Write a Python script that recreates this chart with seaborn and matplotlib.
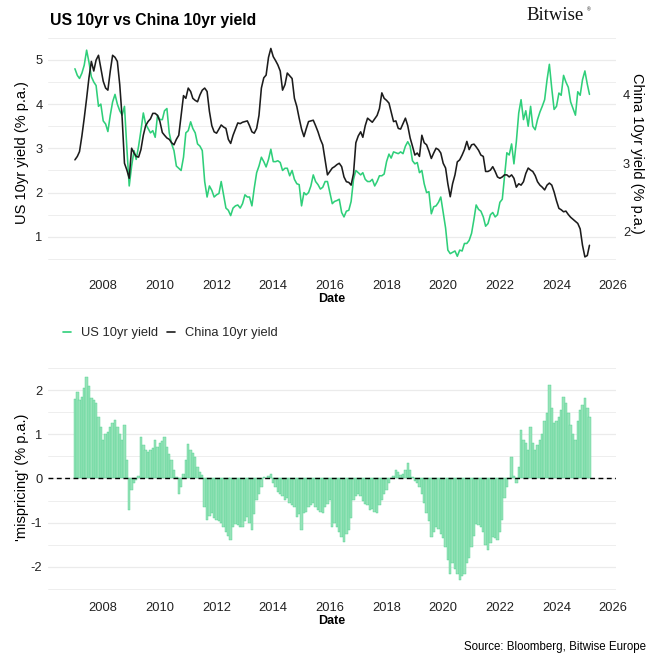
import matplotlib
matplotlib.use("Agg")
import matplotlib.pyplot as plt
from matplotlib.lines import Line2D
from matplotlib.ticker import MultipleLocator
import numpy as np
import pandas as pd
import seaborn as sns

# monthly observations, Jan 2007 .. Mar 2025
months = pd.date_range("2007-01-01", "2025-03-01", freq="MS")

us_10yr = [
    4.80, 4.65, 4.58, 4.70, 4.88, 5.22, 4.95, 4.62, 4.50, 4.42, 3.95, 4.00,
    3.62, 3.55, 3.38, 3.75, 4.05, 4.22, 4.00, 3.85, 3.75, 3.95, 3.00, 2.15,
    2.60, 2.95, 2.75, 3.05, 3.40, 3.80, 3.55, 3.45, 3.35, 3.40, 3.25, 3.75,
    3.65, 3.65, 3.85, 3.90, 3.35, 3.10, 2.95, 2.60, 2.55, 2.50, 2.80, 3.35,
    3.40, 3.60, 3.45, 3.35, 3.10, 3.05, 2.95, 2.25, 1.90, 2.15, 2.05, 1.90,
    1.95, 1.98, 2.25, 1.95, 1.65, 1.60, 1.48, 1.65, 1.70, 1.72, 1.65, 1.75,
    1.95, 1.90, 1.90, 1.70, 2.10, 2.45, 2.60, 2.80, 2.70, 2.58, 2.75, 2.98,
    2.70, 2.70, 2.72, 2.68, 2.50, 2.55, 2.55, 2.38, 2.50, 2.30, 2.20, 2.18,
    1.70, 2.00, 1.95, 2.00, 2.15, 2.40, 2.25, 2.18, 2.08, 2.12, 2.25, 2.25,
    2.00, 1.75, 1.80, 1.82, 1.85, 1.55, 1.45, 1.58, 1.60, 1.80, 2.30, 2.50,
    2.45, 2.40, 2.45, 2.30, 2.25, 2.25, 2.30, 2.15, 2.25, 2.38, 2.38, 2.42,
    2.70, 2.87, 2.78, 2.92, 2.90, 2.88, 2.92, 2.88, 3.05, 3.15, 3.05, 2.72,
    2.65, 2.68, 2.45, 2.50, 2.20, 2.00, 2.02, 1.52, 1.68, 1.70, 1.78, 1.90,
    1.55, 1.20, 0.70, 0.62, 0.65, 0.68, 0.56, 0.70, 0.68, 0.85, 0.85, 0.92,
    1.08, 1.40, 1.72, 1.62, 1.58, 1.45, 1.24, 1.30, 1.50, 1.55, 1.45, 1.50,
    1.78, 1.85, 2.35, 2.90, 2.85, 3.10, 2.65, 3.15, 3.80, 4.10, 3.65, 3.85,
    3.50, 3.95, 3.50, 3.42, 3.65, 3.82, 3.95, 4.10, 4.55, 4.90, 4.35, 3.88,
    3.95, 4.25, 4.20, 4.65, 4.50, 4.38, 4.05, 3.90, 3.75, 4.28, 4.20, 4.55,
    4.75, 4.45, 4.22,
]

china_10yr = [
    3.05, 3.10, 3.17, 3.40, 3.66, 3.95, 4.25, 4.49, 4.35, 4.51, 4.58, 4.39,
    4.20, 4.10, 4.07, 4.35, 4.58, 4.55, 4.49, 4.15, 3.66, 3.00, 2.90, 2.78,
    3.22, 3.15, 3.10, 3.09, 3.20, 3.41, 3.55, 3.61, 3.65, 3.73, 3.73, 3.70,
    3.61, 3.45, 3.41, 3.37, 3.35, 3.30, 3.27, 3.35, 3.41, 3.70, 3.99, 3.95,
    4.10, 4.05, 3.95, 3.92, 3.90, 4.00, 4.07, 4.10, 4.05, 3.76, 3.55, 3.46,
    3.44, 3.50, 3.56, 3.53, 3.51, 3.35, 3.29, 3.41, 3.50, 3.59, 3.58, 3.60,
    3.61, 3.62, 3.55, 3.46, 3.44, 3.51, 3.70, 4.10, 4.25, 4.29, 4.55, 4.68,
    4.56, 4.50, 4.44, 4.35, 4.07, 4.15, 4.32, 4.28, 4.24, 3.95, 3.83, 3.66,
    3.50, 3.39, 3.50, 3.61, 3.62, 3.63, 3.55, 3.46, 3.35, 3.27, 3.05, 2.83,
    2.88, 2.93, 2.95, 2.98, 3.00, 2.95, 2.80, 2.73, 2.72, 2.68, 2.85, 3.30,
    3.40, 3.46, 3.38, 3.55, 3.66, 3.63, 3.60, 3.65, 3.70, 3.80, 4.03, 3.95,
    3.92, 3.88, 3.75, 3.61, 3.62, 3.51, 3.50, 3.58, 3.66, 3.55, 3.37, 3.25,
    3.12, 3.15, 3.10, 3.41, 3.30, 3.27, 3.18, 3.07, 3.15, 3.22, 3.20, 3.15,
    3.00, 2.93, 2.70, 2.51, 2.70, 2.83, 3.02, 3.05, 3.12, 3.20, 3.32, 3.20,
    3.27, 3.28, 3.24, 3.19, 3.12, 3.10, 2.88, 2.88, 2.90, 2.95, 2.88, 2.80,
    2.78, 2.80, 2.83, 2.83, 2.80, 2.83, 2.78, 2.65, 2.70, 2.68, 2.73, 2.85,
    2.93, 2.90, 2.88, 2.82, 2.73, 2.68, 2.65, 2.61, 2.68, 2.71, 2.68, 2.58,
    2.45, 2.34, 2.32, 2.29, 2.30, 2.25, 2.21, 2.18, 2.15, 2.12, 2.04, 1.80,
    1.63, 1.65, 1.80,
]

mispricing = [
    1.80, 1.96, 1.78, 1.85, 2.05, 2.30, 2.10, 1.82, 1.78, 1.70, 1.40, 1.17,
    0.87, 1.00, 1.05, 1.17, 1.25, 1.32, 1.17, 1.00, 0.87, 1.21, 0.42, -0.72,
    -0.26, -0.10, -0.04, 0.05, 0.94, 0.75, 0.64, 0.60, 0.64, 0.70, 0.87, 0.72,
    0.80, 0.85, 0.94, 0.72, 0.55, 0.42, 0.20, 0.04, -0.34, -0.19, 0.10, 0.42,
    0.79, 0.65, 0.57, 0.49, 0.26, 0.15, 0.08, -0.64, -0.94, -0.85, -0.79, -0.90,
    -0.94, -0.95, -1.00, -1.09, -1.20, -1.30, -1.40, -1.10, -1.02, -1.05, -1.09, -1.09,
    -0.95, -0.87, -1.00, -1.17, -0.80, -0.49, -0.35, -0.19, 0.04, 0.00, 0.05, 0.11,
    -0.11, -0.20, -0.30, -0.34, -0.40, -0.49, -0.45, -0.55, -0.60, -0.64, -0.87, -0.80,
    -1.17, -0.79, -0.75, -0.64, -0.60, -0.55, -0.65, -0.72, -0.75, -0.79, -0.65, -0.57,
    -0.49, -1.09, -1.00, -1.09, -1.20, -1.32, -1.43, -1.25, -1.17, -0.90, -0.49, -0.40,
    -0.34, -0.40, -0.50, -0.57, -0.60, -0.72, -0.70, -0.75, -0.79, -0.60, -0.49, -0.35,
    -0.26, -0.10, 0.00, 0.05, 0.19, 0.15, 0.08, 0.10, 0.20, 0.34, 0.20, 0.04,
    -0.05, -0.11, -0.20, -0.34, -0.55, -0.79, -0.95, -1.32, -1.20, -1.09, -1.15, -1.25,
    -1.35, -1.55, -1.85, -2.15, -1.92, -2.05, -2.15, -2.30, -2.20, -2.15, -1.92, -1.80,
    -1.55, -1.30, -1.02, -1.05, -1.09, -1.20, -1.50, -1.62, -1.45, -1.32, -1.35, -1.40,
    -1.20, -0.94, -0.45, -0.19, 0.00, 0.49, 0.05, -0.11, 0.26, 1.09, 0.87, 0.80,
    0.64, 1.17, 0.80, 0.64, 0.75, 0.87, 1.00, 1.30, 1.47, 2.11, 1.60, 1.25,
    1.30, 1.40, 1.55, 1.85, 1.70, 1.47, 1.20, 1.00, 0.87, 1.30, 1.55, 1.65,
    1.81, 1.60, 1.40,
]

year_ticks = list(range(2008, 2027, 2))

# China yield is drawn on the US scale (right axis shows China units)
CN_SCALE = 1.545
CN_SHIFT = -1.972

GREEN = "#2fcf7a"
BLACK = "#1c1c1c"
GRID = "#ebebeb"
TXT = "#222222"

sns.set_theme(style="white")
plt.rcParams["font.family"] = ["Liberation Sans", "DejaVu Sans"]

W = H = 661
fig = plt.figure(figsize=(W / 100, H / 100), dpi=100)


def px_box(left, top, right, bottom):
    return [left / W, 1 - bottom / H, (right - left) / W, (bottom - top) / H]


ax1 = fig.add_axes(px_box(48, 36, 616, 270))
ax2 = fig.add_axes(px_box(48, 365, 616, 592))

lines_df = pd.DataFrame({
    "date": np.concatenate([months, months]),
    "value": np.concatenate([np.array(us_10yr),
                             np.array(china_10yr) * CN_SCALE + CN_SHIFT]),
    "series": ["US 10yr yield"] * len(months) + ["China 10yr yield"] * len(months),
})

sns.lineplot(data=lines_df, x="date", y="value", hue="series",
             palette={"US 10yr yield": GREEN, "China 10yr yield": BLACK},
             linewidth=1.15, legend=False, ax=ax1)

ax2.bar(months, mispricing, width=31, color="#97e3b9", edgecolor="#4fd28f",
        linewidth=0.3, zorder=2)
ax2.axhline(0, color="black", linewidth=1.0, linestyle=(0, (3.5, 2.5)), zorder=3)

xlim = (pd.Timestamp("2006-01-19"), pd.Timestamp("2026-02-06"))
xticks = [pd.Timestamp(f"{y}-01-01") for y in year_ticks]

for ax, ylim, major in [(ax1, (0.25, 5.54), [1, 2, 3, 4, 5]),
                        (ax2, (-2.565, 2.565), [-2, -1, 0, 1, 2])]:
    ax.set_xlim(*xlim)
    ax.set_ylim(*ylim)
    ax.set_xticks(xticks)
    ax.set_xticklabels([str(y) for y in year_ticks])
    ax.set_yticks(major)
    ax.set_yticklabels([str(v) for v in major])
    ax.yaxis.set_minor_locator(MultipleLocator(0.5))
    ax.grid(axis="y", which="major", color=GRID, linewidth=0.9, zorder=0)
    ax.grid(axis="y", which="minor", color=GRID, linewidth=0.6, zorder=0)
    ax.grid(axis="x", visible=False)
    ax.set_axisbelow(True)
    for s in ax.spines.values():
        s.set_visible(False)
    ax.tick_params(axis="x", length=4, width=0.8, color="#333333", pad=3,
                   labelsize=9.3, labelcolor=TXT)
    ax.tick_params(axis="y", which="both", length=0, pad=4,
                   labelsize=9.3, labelcolor=TXT)
    ax.set_ylabel("")
    ax.set_xlabel("Date", fontsize=9, fontweight="bold", color="black", labelpad=1)

sec = ax1.secondary_yaxis(
    "right",
    functions=(lambda u: (u - CN_SHIFT) / CN_SCALE,
               lambda c: c * CN_SCALE + CN_SHIFT),
)
sec.set_yticks([2, 3, 4])
sec.set_yticklabels(["2", "3", "4"])
sec.tick_params(length=0, pad=5, labelsize=9.3, labelcolor=TXT)
for s in sec.spines.values():
    s.set_visible(False)

# axis titles
fig.text(22 / W, 1 - 152.5 / H, "US 10yr yield (% p.a.)", rotation=90,
         ha="center", va="center", fontsize=10.5, color="black")
fig.text(637.5 / W, 1 - 153 / H, "China 10yr yield (% p.a.)", rotation=270,
         ha="center", va="center", fontsize=10.5, color="black")
fig.text(22 / W, 1 - 477.5 / H, "'mispricing' (% p.a.)", rotation=90,
         ha="center", va="center", fontsize=10.5, color="black")

# title, logo, source
fig.text(50 / W, 1 - 21 / H, "US 10yr vs China 10yr yield", ha="left", va="center",
         fontsize=11.3, fontweight="bold", color="black")
fig.text(555 / W, 1 - 15 / H, "Bitwise", ha="center", va="center",
         fontsize=13.5, family="Liberation Serif", color="#111111")
fig.text(589 / W, 1 - 10 / H, "®", ha="center", va="center", fontsize=3.5,
         color="#111111")
fig.text(646 / W, 1 - 647 / H, "Source: Bloomberg, Bitwise Europe",
         ha="right", va="center", fontsize=8.3, color="black")

# legend
handles = [Line2D([0], [0], color=GREEN, linewidth=1.2),
           Line2D([0], [0], color=BLACK, linewidth=1.2)]
fig.legend(handles, ["US 10yr yield", "China 10yr yield"], loc="center left",
           bbox_to_anchor=(63 / W, 1 - 333 / H), ncol=2, frameon=False,
           handlelength=0.6, handletextpad=0.8, columnspacing=0.7,
           fontsize=9.3, borderaxespad=0, borderpad=0)

fig.savefig("out.png", dpi=100, facecolor="white")
